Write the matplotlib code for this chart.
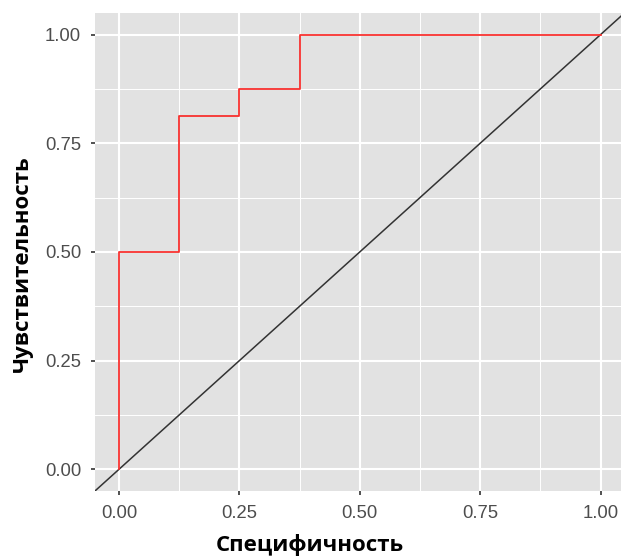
import matplotlib.pyplot as plt

# ROC curve points (step shape)
fpr = [0.0, 0.0, 0.125, 0.125, 0.25, 0.25, 0.375, 0.375, 1.0]
tpr = [0.0, 0.5, 0.5, 0.8125, 0.8125, 0.875, 0.875, 1.0, 1.0]
ticks = [0.0, 0.25, 0.5, 0.75, 1.0]
tick_labels = ["0.00", "0.25", "0.50", "0.75", "1.00"]
minor_ticks = [0.125, 0.375, 0.625, 0.875]

fig = plt.figure(figsize=(6.21, 5.56), dpi=100)
ax = fig.add_axes([0.153, 0.117, 0.853, 0.860])
ax.set_facecolor("#e2e2e2")

ax.plot(fpr, tpr, color="#f8312f", lw=1.3, zorder=3)
ax.axline((0, 0), slope=1, color="#333333", lw=1.1, zorder=2)

ax.set_xlim(-0.05, 1.05)
ax.set_ylim(-0.05, 1.05)
ax.set_xticks(ticks)
ax.set_xticklabels(tick_labels)
ax.set_yticks(ticks)
ax.set_yticklabels(tick_labels)
ax.set_xticks(minor_ticks, minor=True)
ax.set_yticks(minor_ticks, minor=True)

ax.grid(which="major", color="white", lw=1.5, zorder=0)
ax.grid(which="minor", color="white", lw=0.7, zorder=0)
ax.set_axisbelow(True)

for s in ax.spines.values():
    s.set_visible(False)

ax.tick_params(which="major", length=3, width=1.2, color="#333333",
               labelsize=13.3, labelcolor="#4d4d4d", pad=7)
ax.tick_params(which="minor", length=0)
for lab in ax.get_xticklabels() + ax.get_yticklabels():
    lab.set_family("Liberation Sans")

ax.set_xlabel("Специфичность", fontsize=16, fontweight="bold",
              family="Open Sans", va="center")
ax.set_ylabel("Чувствительность", fontsize=16, fontweight="bold",
              family="Open Sans", va="center")
ax.xaxis.set_label_coords(0.406, -0.113)
ax.yaxis.set_label_coords(-0.138, 0.475)

plt.savefig("out.png", dpi=100)
